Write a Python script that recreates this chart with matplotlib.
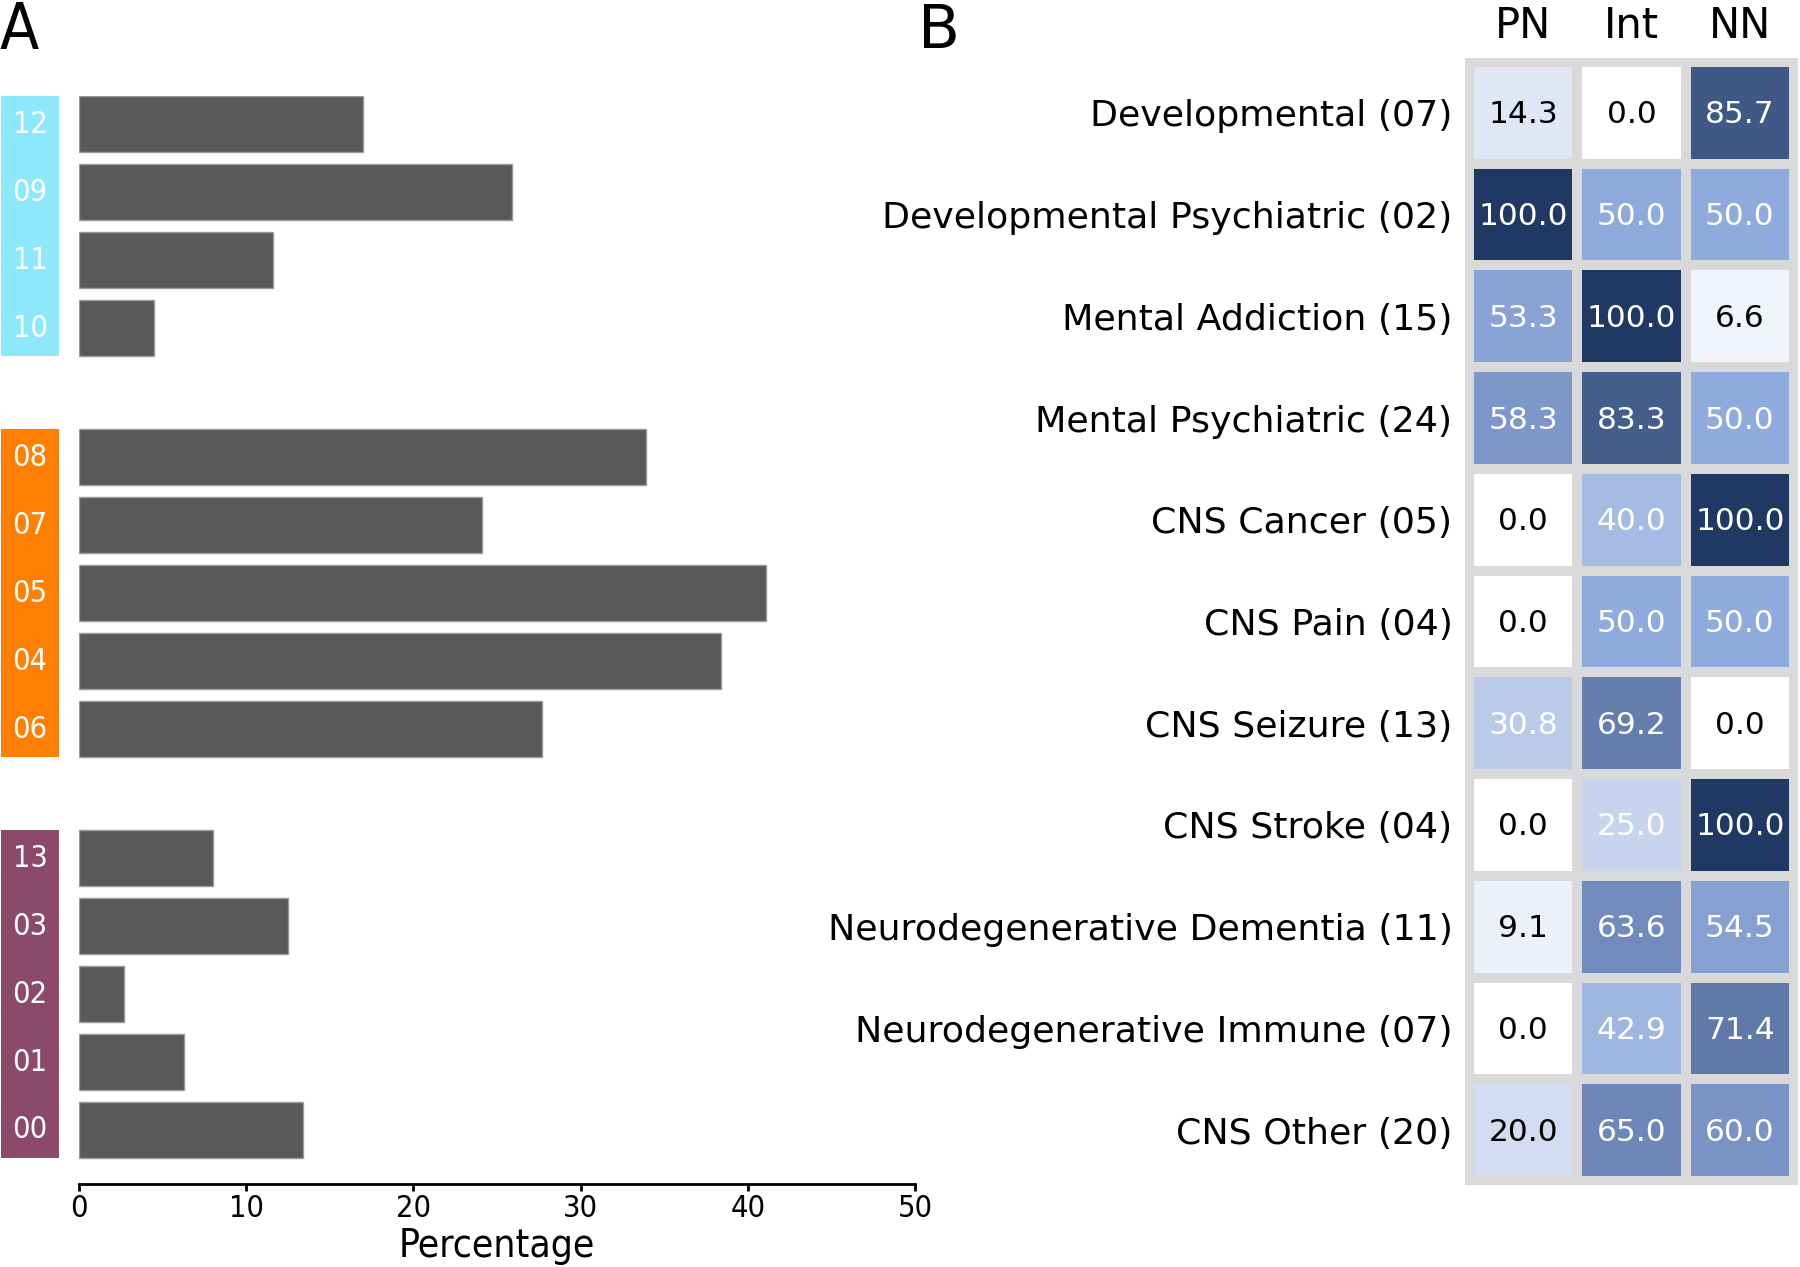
import matplotlib
matplotlib.use('Agg')
import matplotlib.pyplot as plt
import matplotlib.transforms as mtransforms
import numpy as np
from matplotlib import font_manager
from matplotlib.colors import LinearSegmentedColormap
from matplotlib.patches import Rectangle

# Panel A: percentage per cluster, three groups, listed top to bottom
cyan_labels = ['12', '09', '11', '10']
cyan_values = [17.0, 25.9, 11.6, 4.5]
orange_labels = ['08', '07', '05', '04', '06']
orange_values = [33.9, 24.1, 41.1, 38.4, 27.7]
purple_labels = ['13', '03', '02', '01', '00']
purple_values = [8.0, 12.5, 2.7, 6.3, 13.4]
group_colors = ['#8ee8fc', '#ff8000', '#8b4a6a']

# Panel B: heatmap rows and columns
row_labels = ['Developmental (07)', 'Developmental Psychiatric (02)',
              'Mental Addiction (15)', 'Mental Psychiatric (24)',
              'CNS Cancer (05)', 'CNS Pain (04)', 'CNS Seizure (13)',
              'CNS Stroke (04)', 'Neurodegenerative Dementia (11)',
              'Neurodegenerative Immune (07)', 'CNS Other (20)']
col_labels = ['PN', 'Int', 'NN']
pn_values = [14.3, 100.0, 53.3, 58.3, 0.0, 0.0, 30.8, 0.0, 9.1, 0.0, 20.0]
int_values = [0.0, 50.0, 100.0, 83.3, 40.0, 50.0, 69.2, 25.0, 63.6, 42.9, 65.0]
nn_values = [85.7, 50.0, 6.6, 50.0, 100.0, 50.0, 0.0, 100.0, 54.5, 71.4, 60.0]


def narrow_font(size):
    """Pick a condensed sans if one is installed, else plain DejaVu Sans."""
    for fam, stretch, key in [('DejaVu Sans', 'condensed', 'Condensed'),
                              ('Liberation Sans Narrow', 'normal', 'Narrow')]:
        try:
            path = font_manager.findfont(
                font_manager.FontProperties(family=fam, stretch=stretch),
                fallback_to_default=False)
        except ValueError:
            continue
        if key in path:
            return font_manager.FontProperties(fname=path, size=size)
    return font_manager.FontProperties(family='DejaVu Sans', size=size)


W, H = 1800, 1267
fig = plt.figure(figsize=(W / 100, H / 100), dpi=100)

# ---- panel A ----
ax = fig.add_axes([79 / W, 1 - 1184 / H, (915 - 79) / W, (1184 - 96) / H])

groups = [(cyan_labels, cyan_values), (orange_labels, orange_values),
          (purple_labels, purple_values)]
bar_h = 0.83
gap = 1.9
ypos, vals, labs, spans = [], [], [], []
start = 0.0
for labels, values in groups:
    pos = [start + i for i in range(len(labels))]
    ypos += pos
    vals += values
    labs += labels
    spans.append(pos)
    start = pos[-1] + gap

ax.barh(ypos, vals, height=bar_h, color='#595959', edgecolor='#9a9a9a', linewidth=1)
ax.set_xlim(0, 50)
ax.set_ylim(ypos[-1] + bar_h / 2 + 0.38, -bar_h / 2)

blend = mtransforms.blended_transform_factory(ax.transAxes, ax.transData)
box_x, box_w = -0.0933, 0.0694
for pos, labels, color in zip(spans, [g[0] for g in groups], group_colors):
    ax.add_patch(Rectangle((box_x, pos[0] - bar_h / 2), box_w,
                           pos[-1] - pos[0] + bar_h, transform=blend,
                           facecolor=color, edgecolor='none', clip_on=False))
    for p, lab in zip(pos, labels):
        ax.text(box_x + box_w / 2, p, lab, transform=blend, ha='center',
                va='center', color='white', fontproperties=narrow_font(22))

for side in ['top', 'right', 'left']:
    ax.spines[side].set_visible(False)
ax.spines['bottom'].set_linewidth(2)
ax.set_yticks([])
ax.set_xticks(range(0, 51, 10))
ax.tick_params(axis='x', length=5, width=2, pad=2)
for t in ax.get_xticklabels():
    t.set_fontproperties(narrow_font(22))
ax.set_xlabel('Percentage', fontproperties=narrow_font(28), labelpad=3)

fig.text(0.0, 1.0, 'A', ha='left', va='top', fontproperties=narrow_font(46))
fig.text(918 / W, 1 - 2 / H, 'B', ha='left', va='top', fontsize=44)

# ---- panel B ----
data = np.array([pn_values, int_values, nn_values]).T
cmap = LinearSegmentedColormap.from_list('blues', ['#ffffff', '#8faadc', '#1f3864'])
grey = '#d9d9d9'

bx = fig.add_axes([1465 / W, 1 - 1185 / H, 333 / W, (1185 - 58) / H])
bx.set_facecolor(grey)
bx.pcolormesh(np.arange(4), np.arange(len(row_labels) + 1), data, cmap=cmap,
              vmin=0, vmax=100, edgecolors=grey, linewidth=5.8)
bx.set_xlim(-0.037, 3.037)
bx.set_ylim(len(row_labels) + 0.04, -0.04)
for s in bx.spines.values():
    s.set_visible(False)

for i in range(data.shape[0]):
    for j in range(data.shape[1]):
        v = data[i, j]
        bx.text(j + 0.5, i + 0.52, f'{v:.1f}', ha='center', va='center',
                fontsize=22.5, color='white' if v > 22 else 'black')

bx.set_xticks(np.arange(3) + 0.5)
bx.set_xticklabels(col_labels, fontsize=30)
bx.xaxis.tick_top()
bx.set_yticks(np.arange(len(row_labels)) + 0.5)
bx.set_yticklabels(row_labels, fontsize=26.2)
bx.tick_params(axis='both', length=0)
bx.tick_params(axis='x', pad=8)
bx.tick_params(axis='y', pad=9)

fig.savefig('out.png', dpi=100)
